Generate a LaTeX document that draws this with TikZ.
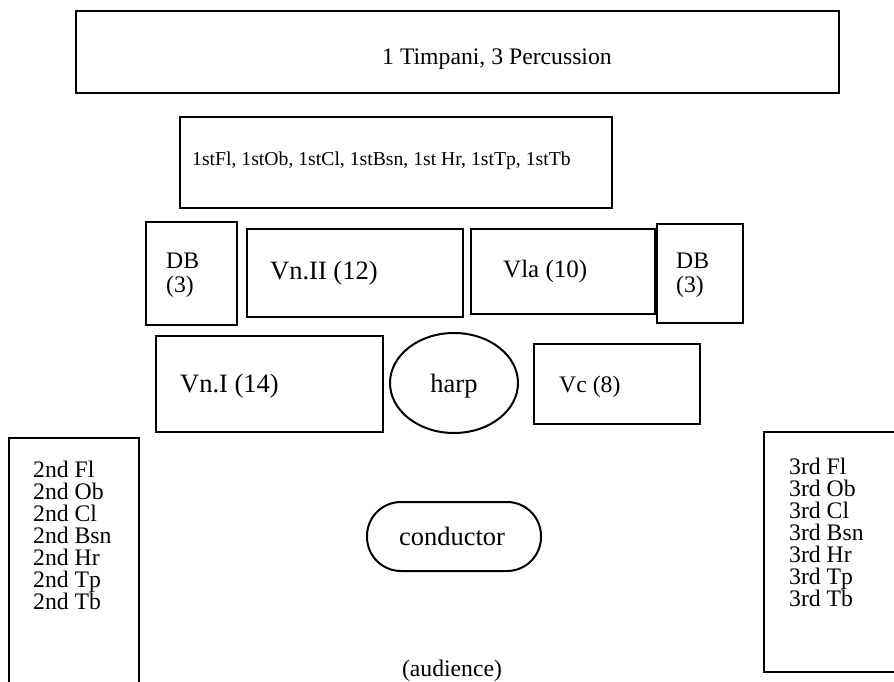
\documentclass[tikz,border=0pt]{standalone}
\usepackage{fontspec}
\setmainfont{Liberation Serif}
\usetikzlibrary{shapes}

\tikzset{
  box/.style={line width=2.4pt},
  lbl/.style={anchor=base west, inner sep=0pt, font=\fontsize{23.7}{22.6}\selectfont},
  biglbl/.style={lbl, font=\fontsize{26.5}{26}\selectfont},
  smalllbl/.style={lbl, font=\fontsize{19.7}{22}\selectfont}
}

\begin{document}
\begin{tikzpicture}[x=1pt,y=-1pt]
	\useasboundingbox (0,0) rectangle (894,682);
	% back rows
	\draw[box] (76,11) rectangle (839,93);
	\node[lbl, anchor=base] (perc) at (497,65) {1 Timpani, 3 Percussion};
	\draw[box] (180,117) rectangle (612,208);
	\node[smalllbl] (firstwinds) at (192,165) {1stFl, 1stOb, 1stCl, 1stBsn, 1st Hr, 1stTp, 1stTb};
	% strings
	\draw[box] (146,222) rectangle (237,325);
	\node[lbl] (dbleft) at (166,268) {DB};
	\node[lbl] (dbleftn) at (166,292) {(3)};
	\draw[box] (247,229) rectangle (463,317);
	\node[biglbl] (vntwo) at (270,279) {Vn.II (12)};
	\draw[box] (471,229) rectangle (655,314);
	\node[lbl, font=\fontsize{25}{25}\selectfont] (vla) at (503,277) {Vla (10)};
	\draw[box] (657,224) rectangle (743,323);
	\node[lbl] (dbright) at (676,268) {DB};
	\node[lbl] (dbrightn) at (676,292) {(3)};
	\draw[box] (156,336) rectangle (383,432);
	\node[biglbl] (vnone) at (180,392) {Vn.I (14)};
	\draw[line width=2pt] (454,383) ellipse [x radius=64, y radius=50];
	\node[biglbl, anchor=base] (harp) at (454,392) {harp};
	\draw[box] (534,344) rectangle (700,424);
	\node[lbl] (vc) at (559,392) {Vc (8)};
	% side winds
	\draw[box] (9,684) -- (9,438) -- (139,438) -- (139,684);
	\foreach \w [count=\i from 0] in {Fl,Ob,Cl,Bsn,Hr,Tp,Tb}
		\node[lbl] (second\w) at (33,477+22*\i) {2nd \w};
	\draw[box] (896,432) -- (764,432) -- (764,672) -- (896,672);
	\foreach \w [count=\i from 0] in {Fl,Ob,Cl,Bsn,Hr,Tp,Tb}
		\node[lbl] (third\w) at (789,474+22*\i) {3rd \w};
	% podium
	\draw[line width=2pt, rounded corners=34pt] (367,502) rectangle (541,571);
	\node[biglbl, anchor=base] (conductor) at (452,545) {conductor};
	\node[lbl, anchor=base] (audience) at (452,676) {(audience)};
\end{tikzpicture}
\end{document}
